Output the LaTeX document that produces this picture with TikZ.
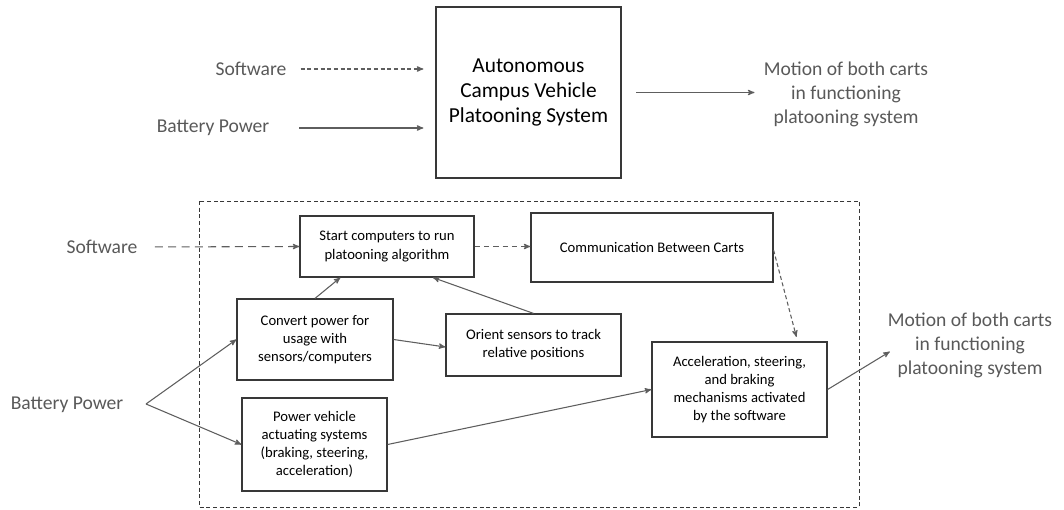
\documentclass[tikz,border=0pt]{standalone}
\usepackage{fontspec}
\setmainfont{Carlito}
\usetikzlibrary{arrows}
\definecolor{linegray}{HTML}{5E5E5E}
\definecolor{labelgray}{HTML}{595959}
\definecolor{boxgray}{HTML}{383838}
\begin{document}
\begin{tikzpicture}[x=0.75pt,y=-0.75pt,>=stealth',
        every edge/.style={draw=linegray,line width=0.8pt,->},
        box/.style={draw=boxgray,line width=0.9pt,align=center,inner sep=2pt,
          font=\fontsize{11}{13.5}\selectfont},
        bigbox/.style={box,font=\fontsize{16}{18.75}\selectfont},
        outtext/.style={text=labelgray,align=center,
          font=\fontsize{14.7}{18}\selectfont},
        softdash/.style={dash pattern=on 3pt off 2pt}]

  \useasboundingbox (0,0) rectangle (1064,510);

  \node[bigbox,minimum width=138.75pt,minimum height=128.25pt] (sys) at (528.5,92.5)
        {Autonomous\\Campus Vehicle\\Platooning System};
  \node[outtext] (sw1)  at (251,69)  {Software};
  \node[outtext] (bat1) at (213,128) {Battery Power};
  \node[outtext] (mot1) at (846,94)  {Motion of both carts\\in functioning\\platooning system};

  \path (sw1.east)  edge [softdash,shorten <=7pt,shorten >=9pt] (sys.west |- sw1.east)
        (bat1.east) edge [shorten <=19pt,shorten >=9pt] (sys.west |- bat1.east)
        (sys.east)  edge [shorten <=11pt,shorten >=3.5pt] (mot1.west |- sys.east);

  \draw[dash pattern=on 3pt off 2pt,draw=boxgray,line width=0.7pt] (199,201) rectangle (859,507);

  \node[box,minimum width=130.5pt,minimum height=45.75pt] (start) at (387,246.5)
        {Start computers to run\\platooning algorithm};
  \node[box,minimum width=181.5pt,minimum height=51.75pt] (comm) at (652,247.5)
        {Communication Between Carts};
  \node[box,minimum width=117pt,minimum height=60.75pt] (convert) at (315,339.5)
        {Convert power for\\usage with\\sensors/computers};
  \node[box,minimum width=131.25pt,minimum height=46.5pt] (orient) at (533.5,345)
        {Orient sensors to track\\relative positions};
  \node[box,minimum width=131.25pt,minimum height=71.25pt] (accel) at (739.5,389.5)
        {Acceleration, steering,\\and braking\\mechanisms activated\\by the software};
  \node[box,minimum width=108.75pt,minimum height=69.75pt] (power) at (314.5,444.5)
        {Power vehicle\\actuating systems\\(braking, steering,\\acceleration)};

  \node[outtext] (sw2)  at (102,247) {Software};
  \node[outtext] (bat2) at (67,405)  {Battery Power};
  \node[outtext] (mot2) at (970,345) {Motion of both carts\\in functioning\\platooning system};
  \coordinate (split) at (146,404);

  \path (sw2.east)   edge [dash pattern=on 6pt off 4pt,shorten <=9.5pt] (start.west)
        (start.east) edge [dash pattern=on 4pt off 3pt] (comm.west |- start.east)
        ([yshift=-2pt]comm.east) edge [softdash,shorten >=3.5pt] ([xshift=-22.5pt]accel.north east)
        (split) edge (convert.west)
        (split) edge (power.west)
        (convert.north) edge ([xshift=-35pt]start.south)
        (orient.north)  edge ([xshift=34.5pt]start.south)
        (convert.east)  edge ([yshift=-1.5pt]orient.west)
        (power.east)    edge (accel.west)
        (accel.east)    edge ([xshift=5pt,yshift=-5pt]mot2.west);

\end{tikzpicture}
\end{document}
